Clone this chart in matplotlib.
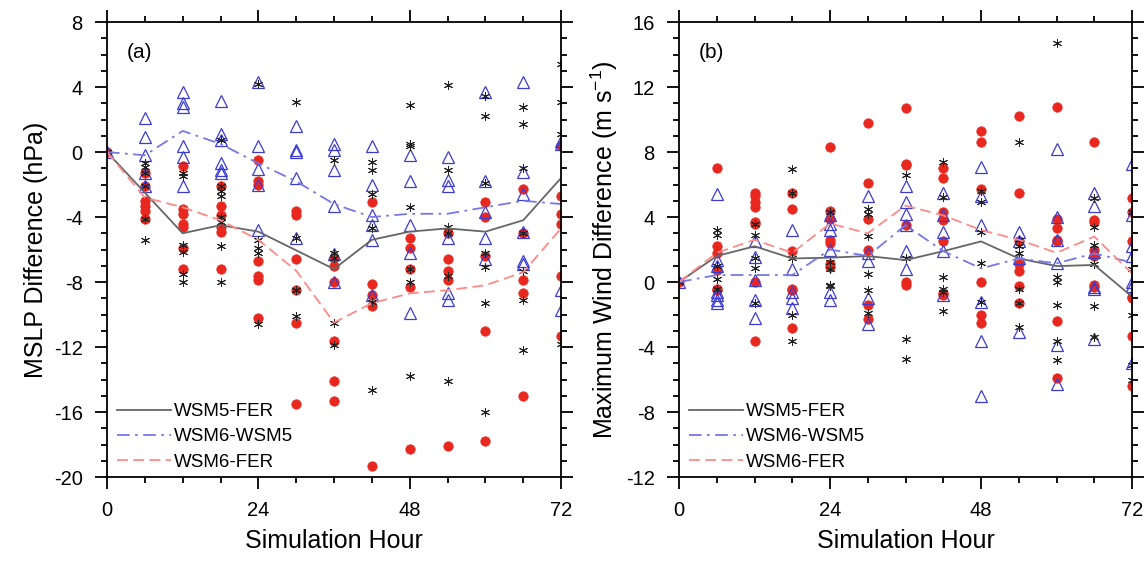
import matplotlib
matplotlib.use("Agg")
import matplotlib.pyplot as plt

plt.rcParams['font.family'] = ['Liberation Sans', 'DejaVu Sans']
plt.rcParams['mathtext.default'] = 'regular'
plt.rcParams['axes.unicode_minus'] = False

hours = [0, 6, 12, 18, 24, 30, 36, 42, 48, 54, 60, 66, 72]

# ---- panel (a): MSLP difference (hPa) ----
a_wsm5_fer = [
    [0], [-0.7, -0.9, -1.3, -2.1, -4.1, -5.4], [-1.3, -1.5, -5.7, -6.15, -7.5, -8.0],
    [0.75, -2.1, -2.4, -2.7, -4.0, -4.3, -5.8, -8.0], [4.2, -5.4, -5.9, -6.2, -10.6],
    [3.1, -5.3, -8.5, -8.5, -10.1], [-0.5, -6.2, -6.5, -10.5, -11.9],
    [-0.6, -1.1, -2.6, -4.7, -9.2, -14.65], [2.9, 0.5, 0.4, -3.4, -7.2, -8.0, -13.8],
    [4.1, -1.1, -4.6, -5.0, -7.6, -14.1], [3.45, 2.2, -1.9, -6.2, -7.1, -9.3, -16.0],
    [2.75, 1.7, -1.0, -5.0, -7.3, -9.1, -12.2], [5.4, 3.1, 1.1, -11.8],
]
a_wsm6_wsm5 = [
    [0], [2.1, 0.9, -0.2, -2.1, -1.3], [3.7, 3.0, 2.8, 0.37, -0.3, -2.1],
    [3.15, 1.1, 0.75, -0.7, -1.1, -1.3], [4.3, 0.37, -1.07, -2.0, -4.8],
    [1.6, 0.1, 0.0, -1.6, -5.3], [0.5, 0.1, -1.1, -3.3, -6.25, -8.0],
    [0.37, -2.0, -3.9, -4.5, -5.4, -8.8], [-0.2, -1.8, -4.5, -6.2, -9.9],
    [-0.3, -1.7, -2.1, -5.3, -8.7, -9.1], [3.7, -1.8, -3.7, -5.3, -6.6],
    [4.3, -1.2, -2.6, -4.9, -6.7, -6.9], [0.7, 0.5, -8.5, -9.75],
]
a_wsm6_fer = [
    [0], [-1.3, -2.1, -3.0, -3.3, -3.6, -4.1], [-0.86, -3.5, -3.8, -4.4, -4.6, -5.9, -7.2],
    [-2.1, -3.3, -3.9, -4.6, -4.9, -7.2], [-0.5, -1.8, -2.0, -6.7, -7.6, -7.9, -10.2],
    [-3.6, -3.9, -6.6, -8.5, -10.5, -15.5], [-6.5, -7.0, -8.0, -11.6, -14.1, -15.3],
    [-3.1, -8.1, -8.8, -9.5, -19.3], [-5.3, -5.9, -7.2, -8.3, -18.3],
    [-5.0, -6.6, -7.3, -7.9, -18.1], [-3.1, -4.0, -6.4, -11.0, -17.8],
    [-2.3, -5.0, -7.9, -8.7, -15.0], [0.37, -2.7, -3.8, -4.4, -7.6, -11.3],
]
a_mean_wsm5_fer = [0, -2.5, -5.0, -4.5, -4.9, -6.05, -7.2, -5.4, -4.9, -4.7, -4.9, -4.2, -1.6]
a_mean_wsm6_wsm5 = [0, -0.2, 1.3, 0.5, -0.7, -1.8, -3.2, -4.0, -3.8, -3.8, -3.4, -3.0, -3.2]
a_mean_wsm6_fer = [0, -2.8, -3.4, -4.2, -5.4, -7.3, -10.5, -9.3, -8.7, -8.5, -8.2, -7.4, -4.7]

# ---- panel (b): maximum wind difference (m/s) ----
b_wsm5_fer = [
    [0], [3.2, 2.9, 1.0, 0.16, -0.45], [3.6, 2.9, 1.45, 0.84, -1.3],
    [6.95, 5.45, 1.45, -2.0, -3.6], [4.3, 1.25, 0.8, -0.2, -0.25],
    [4.5, 4.2, 2.85, 0.5, -0.5, -1.9], [6.6, 1.45, -3.5, -4.75],
    [7.4, 5.25, 0.33, -0.4, -0.6, -1.8], [5.6, 4.9, 3.1, 1.2, -1.2],
    [8.6, 2.6, 2.2, 1.8, -0.4, -1.3, -2.75], [14.7, 0.3, 0.0, -1.4, -3.6, -4.8],
    [5.2, 3.4, 2.3, 1.1, -1.5, -3.4], [4.3, 0.8, -2.0, -5.1, -6.0],
]
b_wsm6_wsm5 = [
    [0], [5.4, 1.35, 1.0, -0.6, -0.8, -1.1, -1.3], [2.5, 1.55, 0.1, -1.1, -2.2],
    [3.2, 0.8, -0.6, -1.0, -1.6], [4.1, 3.6, 3.2, 2.0, -0.6, -1.1],
    [5.3, 1.8, 1.3, -1.0, -2.6], [5.9, 4.9, 4.2, 3.5, 1.9, 0.8],
    [5.5, 4.1, 3.1, 1.9, -0.8], [7.1, 5.3, 3.5, -1.2, -3.6, -7.0],
    [3.1, 2.5, 1.45, -3.05], [8.2, 4.0, 2.6, 1.2, -3.9, -6.3],
    [5.5, 4.7, 1.85, -0.3, -0.4, -3.5], [7.26, 4.1, 2.2, 1.6, -0.25, 0.0, -5.0],
]
b_wsm6_fer = [
    [0], [7.0, 2.2, 1.8, 0.74, -0.4, -0.5], [5.5, 5.3, 4.9, 4.6, 3.7, 3.6, 0.0, -3.6],
    [5.45, 4.5, 1.9, -0.4, -0.5, -2.85], [8.3, 4.4, 3.9, 2.6, 2.4, 1.1, 0.95],
    [9.8, 6.1, 3.9, 2.0, -1.4, -2.3], [10.7, 7.26, 7.2, 3.5, 0.0, -0.2],
    [7.0, 6.4, 4.3, 3.8, 2.5, -0.7, -0.8], [9.3, 8.6, 5.75, 0.0, -2.0, -2.5],
    [10.2, 5.45, 2.5, 1.1, 0.7, -0.25, -1.3], [10.8, 3.9, 3.3, 2.6, 2.5, -2.4, -5.9],
    [8.6, 3.8, 3.7, 2.0, 1.6, -0.2, -0.3], [5.15, 4.3, 2.5, -0.9, -1.0, -3.3, -6.4],
]
b_mean_wsm5_fer = [0, 1.6, 2.2, 1.45, 1.5, 1.6, 1.35, 1.9, 2.5, 1.45, 0.98, 1.05, -0.9]
b_mean_wsm6_wsm5 = [0, 0.43, 0.43, 0.43, 2.0, 1.6, 3.5, 1.9, 0.84, 1.45, 1.15, 1.76, 1.2]
b_mean_wsm6_fer = [0, 1.8, 2.6, 1.8, 3.6, 3.0, 4.7, 4.1, 3.2, 2.6, 1.8, 2.8, 0.53]

labels = ['WSM5-FER', 'WSM6-WSM5', 'WSM6-FER']

black = '#222222'
blue = '#3c3cd2'
red = '#e8271e'


def scatter_series(ax, groups, **kw):
    xs, ys = [], []
    for h, vals in zip(hours, groups):
        xs += [h] * len(vals)
        ys += vals
    ax.plot(xs, ys, linestyle='none', **kw)


def draw_panel(ax, wsm5_fer, wsm6_wsm5, wsm6_fer, m1, m2, m3, ylim, yticks, ylabel, tag):
    scatter_series(ax, wsm6_fer, marker='o', ms=6.8, mfc=red, mec=red, mew=0.5)
    scatter_series(ax, wsm6_wsm5, marker='^', ms=8, mfc='none', mec=blue, mew=0.9)
    scatter_series(ax, wsm5_fer, marker=(6, 2, 0), ms=6.5, mec=black, mew=0.7)
    ax.plot(hours, m1, color='#666666', lw=1.3, ls='-', label=labels[0])
    ax.plot(hours, m2, color='#7777e8', lw=1.3, ls=(0, (7, 3, 1.5, 3)), label=labels[1])
    ax.plot(hours, m3, color='#ff8a8a', lw=1.3, ls=(0, (6, 3)), label=labels[2])
    ax.set_xlim(0, 72)
    ax.set_ylim(*ylim)
    ax.set_xticks([0, 24, 48, 72])
    ax.set_xticks(range(0, 73, 6), minor=True)
    ax.set_yticks(yticks)
    ax.set_yticks(range(ylim[0], ylim[1] + 1), minor=True)
    ax.tick_params(which='both', direction='out', top=True, right=True, labelsize=14.5, width=1.3)
    ax.tick_params(which='major', length=8.5, pad=9)
    ax.tick_params(which='minor', length=4)
    for s in ax.spines.values():
        s.set_linewidth(1.3)
    ax.set_xlabel('Simulation Hour', fontsize=18, labelpad=6)
    ax.set_ylabel(ylabel, fontsize=18, labelpad=4)
    ax.text(0.044, 0.932, tag, transform=ax.transAxes, fontsize=15, va='center')
    ax.legend(loc='lower left', bbox_to_anchor=(0.022, 0.014), frameon=False, fontsize=13.5,
              handlelength=2.9, handletextpad=0.15, labelspacing=0.43,
              borderaxespad=0, borderpad=0)


fig = plt.figure(figsize=(11.48, 5.61), dpi=100)
ax1 = fig.add_axes([0.0932, 0.1497, 0.3955, 0.811])
ax2 = fig.add_axes([0.5915, 0.1497, 0.3946, 0.811])

draw_panel(ax1, a_wsm5_fer, a_wsm6_wsm5, a_wsm6_fer,
           a_mean_wsm5_fer, a_mean_wsm6_wsm5, a_mean_wsm6_fer,
           (-20, 8), range(-20, 9, 4), 'MSLP Difference (hPa)', '(a)')
draw_panel(ax2, b_wsm5_fer, b_wsm6_wsm5, b_wsm6_fer,
           b_mean_wsm5_fer, b_mean_wsm6_wsm5, b_mean_wsm6_fer,
           (-12, 16), range(-12, 17, 4), 'Maximum Wind Difference (m s$^{-1}$)', '(b)')

fig.savefig('out.png', dpi=100)
